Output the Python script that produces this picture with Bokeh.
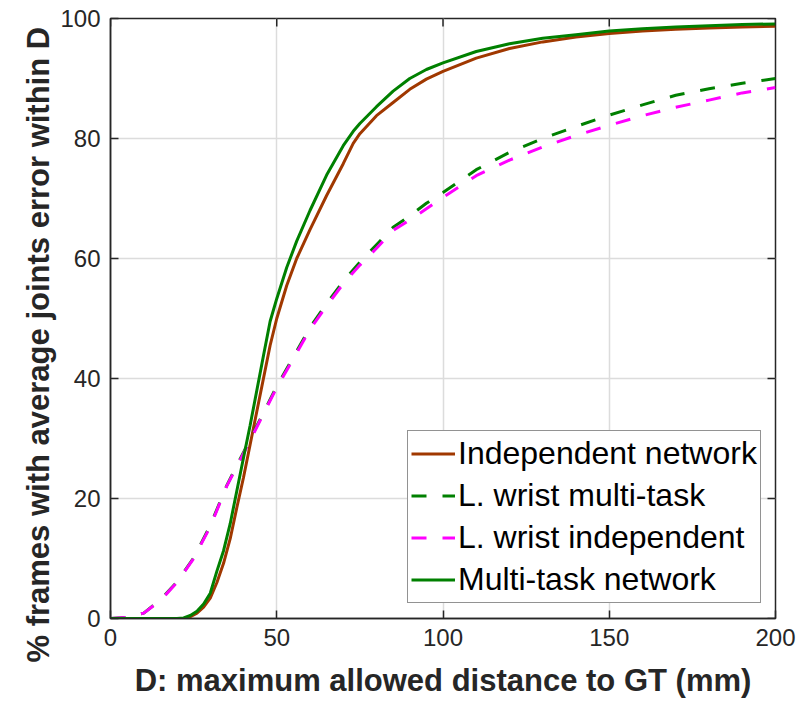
import math
from bokeh.plotting import figure
from bokeh.models import FixedTicker, Range1d, Title
from bokeh.embed import file_html
from bokeh.resources import INLINE

# ---- data ----
d_solid = [0, 20, 22, 24, 26, 28, 30, 32, 34, 36, 38, 40, 42, 44, 46, 48, 50, 53, 56, 60,
           65, 70, 73, 75, 80, 85, 90, 95, 100, 110, 120, 130, 140, 150, 160, 170, 180, 190, 200]
independent_net = [0, 0, 0.0, 0.3, 0.9, 1.9, 3.4, 6.0, 9.2, 13.3, 18.5, 23.5, 29.0, 34.5, 40.0, 45.5, 50.0, 55.5, 60.0, 64.8,
                   70.5, 75.8, 79.2, 80.8, 83.8, 86.0, 88.2, 89.9, 91.2, 93.4, 95.0, 96.1, 96.9, 97.5, 97.9, 98.2, 98.4, 98.6, 98.7]
multitask_net = [0, 0, 0.1, 0.5, 1.2, 2.4, 4.2, 7.9, 11.3, 15.8, 21.3, 26.8, 32.2, 38.0, 43.8, 49.5, 53.3, 58.5, 62.9, 68.0,
                 73.9, 78.8, 81.2, 82.5, 85.3, 87.9, 90.0, 91.5, 92.6, 94.5, 95.8, 96.7, 97.3, 97.9, 98.3, 98.6, 98.8, 99.0, 99.1]

d_dash = [0, 5, 10, 15, 20, 25, 30, 35, 40, 45, 50, 55, 60, 65, 70, 75, 80, 85, 90, 95,
          100, 110, 120, 130, 140, 150, 160, 170, 180, 190, 200]
wrist_multitask = [0, 0.2, 0.9, 3.1, 6.1, 10.1, 15.5, 22.2, 27.7, 33.2, 38.7, 43.6, 48.5, 52.5, 56.2, 59.4, 62.3, 65.2, 67.1, 69.2,
                   71.0, 74.8, 77.7, 80.0, 82.0, 83.9, 85.6, 87.2, 88.3, 89.2, 90.0]
wrist_independent = [0, 0.2, 0.9, 3.0, 6.0, 10.0, 15.3, 22.1, 27.5, 33.0, 38.5, 43.3, 48.2, 52.1, 55.8, 58.9, 61.7, 64.7, 66.4, 68.3,
                     70.2, 73.8, 76.4, 78.6, 80.5, 82.2, 83.8, 85.2, 86.4, 87.6, 88.5]

x_ticks = [0, 50, 100, 150, 200]
y_ticks = [0, 20, 40, 60, 80, 100]
x_min, x_max = 0, 200
y_min, y_max = 0, 100

FONT = "Liberation Sans"
DARK = "#262626"

W, H = 803, 703
BL, BR, BT, BB = 110, 28, 18, 85
TICK_PX = 8

p = figure(width=W, height=H, output_backend="svg", toolbar_location=None,
           x_range=Range1d(x_min, x_max), y_range=Range1d(y_min, y_max),
           min_border_left=BL, min_border_right=BR, min_border_top=BT, min_border_bottom=BB)
p.background_fill_color = "white"
p.border_fill_color = "white"
p.outline_line_color = DARK
p.outline_line_width = 1.5

# grid
p.xgrid.ticker = FixedTicker(ticks=x_ticks)
p.ygrid.ticker = FixedTicker(ticks=y_ticks)
p.grid.grid_line_color = "#dcdcdc"
p.grid.grid_line_width = 1.5

p.line(d_solid, independent_net, line_color="#a03800", line_width=3, legend_label="Independent network")
p.line(d_dash, wrist_multitask, line_color="#008000", line_width=3, line_dash="15 16", legend_label="L. wrist multi-task")
p.line(d_dash, wrist_independent, line_color="#ff00ff", line_width=3, line_dash="15 16", legend_label="L. wrist independent")
p.line(d_solid, multitask_net, line_color="#008000", line_width=3, legend_label="Multi-task network")

# inward ticks on the top and right edges of the box (8 px long)
frame_w = W - BL - BR
frame_h = H - BT - BB
tdy = TICK_PX * (y_max - y_min) / frame_h
tdx = TICK_PX * (x_max - x_min) / frame_w
p.segment(x0=x_ticks, y0=[y_max] * len(x_ticks), x1=x_ticks, y1=[y_max - tdy] * len(x_ticks),
          line_color=DARK, line_width=1.5)
p.segment(x0=[x_max] * len(y_ticks), y0=y_ticks, x1=[x_max - tdx] * len(y_ticks), y1=y_ticks,
          line_color=DARK, line_width=1.5)

# axes styling
for ax in p.xaxis + p.yaxis:
    ax.major_label_text_font = FONT
    ax.major_label_text_font_size = "24px"
    ax.major_label_text_color = DARK
    ax.axis_line_color = DARK
    ax.axis_line_width = 1.5
    ax.major_tick_line_color = DARK
    ax.major_tick_line_width = 1.5
    ax.major_tick_in = TICK_PX
    ax.major_tick_out = 0
    ax.minor_tick_in = 0
    ax.minor_tick_out = 0
p.xaxis.ticker = FixedTicker(ticks=x_ticks)
p.yaxis.ticker = FixedTicker(ticks=y_ticks)
p.xaxis.major_label_standoff = 10
p.yaxis.major_label_standoff = 10

p.xaxis.axis_label = "D: maximum allowed distance to GT (mm)"
p.xaxis.axis_label_text_font = FONT
p.xaxis.axis_label_text_font_style = "bold"
p.xaxis.axis_label_text_font_size = "31px"
p.xaxis.axis_label_text_color = DARK
p.xaxis.axis_label_standoff = 14

# y label as a left-side title, anchored below the frame bottom like the reference
ytitle = Title(text="% frames with average joints error within D", align="left", vertical_align="bottom",
               offset=-44, standoff=4, text_font=FONT, text_font_style="bold",
               text_font_size="31px", text_color=DARK)
p.add_layout(ytitle, "left")

# legend
lg = p.legend[0]
lg.location = (297, 15)
lg.border_line_color = DARK
lg.border_line_width = 1.5
lg.background_fill_color = "white"
lg.background_fill_alpha = 1.0
lg.label_text_font = FONT
lg.label_text_font_size = "32px"
lg.label_text_color = "black"
lg.glyph_width = 44
lg.glyph_height = 39
lg.label_height = 39
lg.spacing = 3
lg.padding = 3
lg.margin = 0
lg.label_standoff = 3

open("out.html", "w").write(file_html(p, INLINE))
